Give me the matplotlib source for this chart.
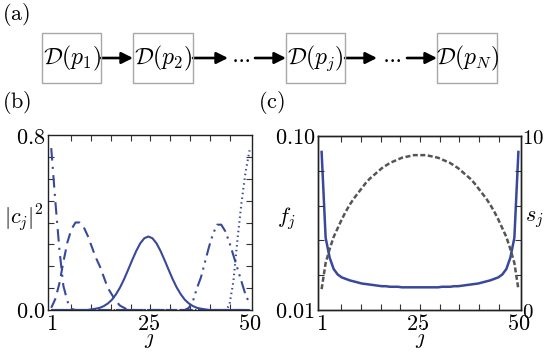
import matplotlib
matplotlib.use("Agg")
import matplotlib.pyplot as plt
import numpy as np
from matplotlib.patches import Rectangle, FancyArrowPatch

plt.rcParams['mathtext.fontset'] = 'cm'
plt.rcParams['font.family'] = ['DejaVu Serif']

# ---------------- data ----------------
j = list(range(1, 51))

# panel (b): |c_j|^2 of five states
c_dashdot_left = [0.74, 0.50, 0.28, 0.11, 0.04, 0.005] + [0.0] * 44
c_dashed = [0.01, 0.05, 0.12, 0.22, 0.31, 0.37, 0.40, 0.40, 0.38, 0.34,
            0.29, 0.24, 0.20, 0.15, 0.10, 0.07, 0.04, 0.02, 0.01] + [0.0] * 31
c_solid = [0.0] * 10 + [0.003, 0.006, 0.010, 0.018, 0.030, 0.047, 0.072, 0.103, 0.141, 0.184,
                        0.228, 0.270, 0.305, 0.328, 0.336, 0.328, 0.305, 0.270, 0.228, 0.184,
                        0.141, 0.103, 0.072, 0.047, 0.030, 0.018, 0.010, 0.006, 0.003] + [0.0] * 11
c_dashdotdot = [0.0] * 34 + [0.01, 0.04, 0.10, 0.15, 0.22, 0.29, 0.35, 0.39, 0.39, 0.36,
                             0.31, 0.25, 0.19, 0.13, 0.07, 0.03]
c_dotted = [0.0] * 44 + [0.02, 0.13, 0.32, 0.49, 0.63, 0.73]

# panel (c): f_j (left, log) and s_j (right)
f_vals = [0.081, 0.026, 0.0200, 0.0172, 0.0160, 0.0154, 0.0151, 0.0148, 0.0146, 0.0144,
          0.0142, 0.0141, 0.0140, 0.0139, 0.0138, 0.0137, 0.0137, 0.0136, 0.0136, 0.0136,
          0.0135, 0.0135, 0.0135, 0.0135, 0.0135,
          0.0135, 0.0135, 0.0135, 0.0135, 0.0135, 0.0136, 0.0136, 0.0136, 0.0137, 0.0137,
          0.0138, 0.0139, 0.0140, 0.0141, 0.0142, 0.0144, 0.0146, 0.0148, 0.0151, 0.0154,
          0.0160, 0.0172, 0.0200, 0.026, 0.081]
s_vals = [1.2, 2.7, 3.5, 4.2, 4.7, 5.2, 5.65, 6.05, 6.4, 6.7,
          7.0, 7.3, 7.55, 7.75, 7.95, 8.15, 8.3, 8.45, 8.55, 8.65,
          8.75, 8.8, 8.85, 8.9, 8.9,
          8.9, 8.9, 8.85, 8.8, 8.75, 8.65, 8.55, 8.45, 8.3, 8.15,
          7.95, 7.75, 7.55, 7.3, 7.0, 6.7, 6.4, 6.05, 5.65, 5.2,
          4.7, 4.2, 3.5, 2.7, 1.2]

x_tick_labels = ['$1$', '$25$', '$50$']
box_labels = [r'$\mathcal{D}(p_1)$', r'$\mathcal{D}(p_2)$', r'$\mathcal{D}(p_j)$', r'$\mathcal{D}(p_N)$']

# ---------------- figure ----------------
W, H = 545, 352
fig = plt.figure(figsize=(W / 100, H / 100), dpi=100)
BLUE = '#38489c'
GRAY = '#555555'
FS = 16      # tick labels / axis labels
FSB = 17     # diagram boxes


def rect(l, t, r, b):
    return [l / W, 1 - b / H, (r - l) / W, (b - t) / H]


def fx(x):
    return x / W


def fy(y):
    return 1 - y / H


# ---------------- panel (a) ----------------
fig.text(fx(2), fy(15), r'$\mathrm{(a)}$', fontsize=FS, va='center', ha='left')
boxes = [(42, 101), (133, 193), (286, 345), (437, 497)]
box_top, box_bot = 33, 83
for (l, r), lab in zip(boxes, box_labels):
    fig.patches.append(Rectangle((fx(l), fy(box_bot)), fx(r - l), (box_bot - box_top) / H,
                                 transform=fig.transFigure, fill=False, edgecolor='#a8a8a8', lw=1.0))
    fig.text(fx((l + r) / 2), fy(58), lab, fontsize=FSB, ha='center', va='center')

arrow_kw = dict(arrowstyle='-|>', lw=1.9, color='k', mutation_scale=17, shrinkA=0, shrinkB=0)
ymid = fy(58)
arrows = [(101, 133), (193, 228), (255, 286), (345, 377), (407, 437)]
for x0, x1 in arrows:
    fig.add_artist(FancyArrowPatch((fx(x0), ymid), (fx(x1), ymid),
                                   transform=fig.transFigure, **arrow_kw))
for xc in (241, 392):
    fig.text(fx(xc), fy(58), r'$\cdots$', fontsize=15, ha='center', va='center')

# ---------------- panel (b) ----------------
axb = fig.add_axes(rect(48, 135, 252, 310))
lw = 1.5
axb.plot(j, c_solid, color=BLUE, lw=lw, solid_capstyle='butt')
axb.plot(j, c_dashed, color=BLUE, lw=lw, dashes=(5, 3))
axb.plot(j, c_dashdot_left, color=BLUE, lw=lw, dashes=(6, 3, 1, 3))
axb.plot(j, c_dashdotdot, color=BLUE, lw=lw, dashes=(6, 2.5, 1, 2.5, 1, 2.5))
axb.plot(j, c_dotted, color=BLUE, lw=lw, dashes=(0.7, 1.6))
axb.set_xlim(0.2, 50.6)
axb.set_ylim(0, 0.8)
axb.set_xticks([1, 25, 50])
axb.set_xticklabels(x_tick_labels)
axb.set_yticks([0, 0.8])
axb.set_yticklabels(['$0.0$', '$0.8$'])
axb.set_xticks(np.linspace(1, 50, 11), minor=True)
axb.set_yticks(np.arange(0, 0.81, 0.1), minor=True)
axb.tick_params(which='major', length=0, labelsize=FS, pad=2)
axb.tick_params(which='minor', direction='in', length=4, width=0.8, top=True, right=True,
                bottom=True, left=True, color='#333333')
for s in axb.spines.values():
    s.set_linewidth(1.0)
    s.set_color('#222222')

fig.text(fx(2), fy(103), r'$\mathrm{(b)}$', fontsize=FS, va='center', ha='left')
fig.text(fx(24), fy(218), r'$|c_j|^2$', fontsize=FS, ha='center', va='center')
fig.text(fx(150), fy(338), r'$j$', fontsize=FS, ha='center', va='center')

# ---------------- panel (c) ----------------
axc = fig.add_axes(rect(318, 136, 521, 310))
axc.plot(j, f_vals, color=BLUE, lw=1.8)
axc.set_yscale('log')
axc.set_ylim(0.01, 0.1)
axc.set_xlim(0.1, 50.65)
axc.set_yticks([0.01, 0.1])
axc.set_yticklabels(['$0.01$', '$0.10$'])
axc.yaxis.set_minor_locator(matplotlib.ticker.NullLocator())
axc.set_xticks([1, 25, 50])
axc.set_xticklabels(x_tick_labels)
axc.set_xticks(np.linspace(1, 50, 11), minor=True)
axc.tick_params(which='major', length=0, labelsize=FS, pad=2)
axc.tick_params(which='minor', direction='in', length=4, width=0.8, top=True, bottom=True,
                color='#333333')

axs = axc.twinx()
axs.plot(j, s_vals, color=GRAY, lw=1.8, dashes=(2.0, 1.0))
axs.set_ylim(0, 10)
axs.set_yticks([0, 10])
axs.set_yticklabels(['$0$', '$10$'])
axs.set_yticks(np.arange(0, 10.1, 2), minor=True)
axs.tick_params(which='major', length=0, labelsize=15, pad=1)
axs.tick_params(which='minor', direction='in', length=4, width=0.8, left=True, right=True,
                color='#333333')
for a in (axc, axs):
    for s in a.spines.values():
        s.set_linewidth(1.0)
        s.set_color('#222222')

fig.text(fx(258), fy(103), r'$\mathrm{(c)}$', fontsize=FS, va='center', ha='left')
fig.text(fx(287), fy(219), r'$f_j$', fontsize=FS, ha='center', va='center')
fig.text(fx(534), fy(219), r'$s_j$', fontsize=FS, ha='center', va='center')
fig.text(fx(421), fy(338), r'$j$', fontsize=FS, ha='center', va='center')

fig.savefig('out.png', dpi=100)
